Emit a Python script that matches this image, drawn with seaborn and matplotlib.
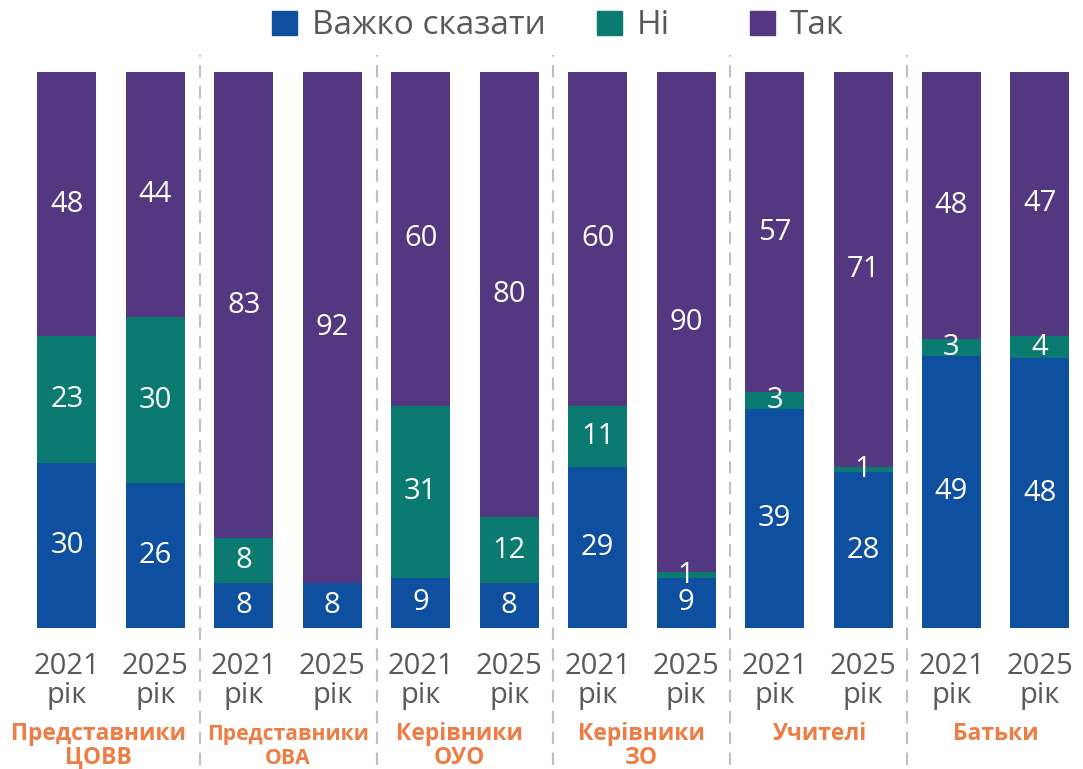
import matplotlib
matplotlib.use("Agg")
import matplotlib.pyplot as plt
import seaborn as sns
import pandas as pd
import numpy as np
from matplotlib.patches import Patch

sns.set_theme(style="white")
plt.rcParams['font.family'] = ['Open Sans', 'DejaVu Sans']

groups = ["Представники\nЦОВВ", "Представники\nОВА", "Керівники\nОУО", "Керівники\nЗО", "Учителі", "Батьки"]
years = ["2021\nрік", "2025\nрік"]
hard_to_say = [30, 26, 8, 8, 9, 8, 29, 9, 39, 28, 49, 48]
no = [23, 30, 8, 0, 31, 12, 11, 1, 3, 1, 3, 4]
yes = [48, 44, 83, 92, 60, 80, 60, 90, 57, 71, 48, 47]
series_names = ["Важко сказати", "Ні", "Так"]
colors = ["#0F4FA0", "#0B7A70", "#533780"]

bars = [f"{g}|{y}" for g in groups for y in years]
vals = np.array([hard_to_say, no, yes], dtype=float)
tot = vals.sum(axis=0)
share = vals / tot * 100
cum = np.cumsum(share, axis=0)

df = pd.DataFrame({"bar": bars, "c0": cum[0], "c1": cum[1], "c2": cum[2]})

fig = plt.figure(figsize=(10.83, 7.69), dpi=100)
ax = fig.add_axes([0, 0.1834, 1, 0.7230])

for k in [2, 1, 0]:
    sns.barplot(data=df, x="bar", y=f"c{k}", order=bars, color=colors[k],
                width=0.667, saturation=1, ax=ax, edgecolor="none")

for i in range(len(bars)):
    prev = 0
    for k in range(3):
        if vals[k, i] > 0:
            yc = (prev + cum[k, i]) / 2
            ax.text(i, yc, f"{int(vals[k, i])}", ha="center", va="center",
                    color="white", fontsize=21)
        prev = cum[k, i]

ax.set_xlim(-0.757, 11.487)
ax.set_ylim(0, 100)
ax.set_xlabel("")
ax.set_ylabel("")
ax.set_yticks([])
ax.set_xticks(range(len(bars)))
ax.set_xticklabels(years * len(groups), color="#595959", fontsize=21, linespacing=1.0)
ax.tick_params(axis="x", length=0, pad=17)
for s in ax.spines.values():
    s.set_visible(False)

# group labels
px_per_unit = 556 / 100
label_shift = [-0.14, 0, -0.06, 0, 0, 0]
label_size = [16.5, 15.2, 16.5, 16.5, 16.5, 16.5]
for gi, g in enumerate(groups):
    for li, line in enumerate(g.split("\n")):
        base_px = 740 + 24 * li
        ax.text(2 * gi + 0.5 + label_shift[gi], -(base_px - 628) / px_per_unit, line,
                ha="center", va="baseline", color="#ED7D45", fontsize=label_size[gi],
                fontweight="bold", clip_on=False)

# separators
for gi in range(1, len(groups)):
    xs = 2 * gi - 0.5
    ax.plot([xs, xs], [-24.6, 103.0], color="#BFBFBF", lw=1.5,
            linestyle=(0, (6, 4)), clip_on=False)

# legend: one entry per legend, positioned as in the reference
leg_x = [272, 597, 750]
for c, n, xp in zip(colors, series_names, leg_x):
    leg = fig.legend(handles=[Patch(color=c, label=n)], loc="center left",
                     bbox_to_anchor=(xp / 1083, 1 - 26 / 769), frameon=False,
                     fontsize=24, handlelength=0.75, handleheight=0.75,
                     handletextpad=0.45, borderpad=0, borderaxespad=0,
                     labelcolor="#595959")

fig.savefig("out.png", dpi=100)
